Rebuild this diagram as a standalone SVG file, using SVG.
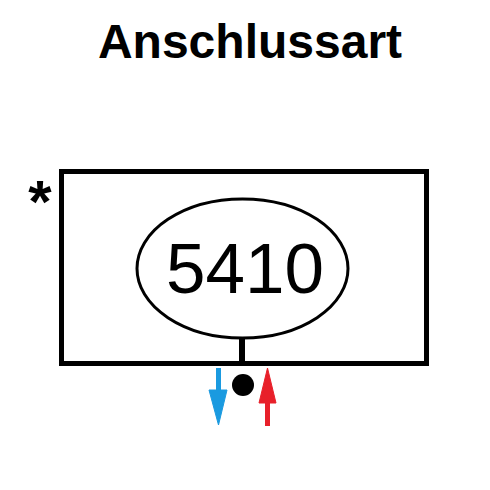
<svg xmlns="http://www.w3.org/2000/svg" width="490" height="490" viewBox="0 0 490 490">
<style>
.t{font-family:"Liberation Sans",Arial,sans-serif;fill:#000}
.ln{stroke:#000;fill:none}
.blue{fill:#1a9ae0;stroke:#1a9ae0}
.red{fill:#e8202a;stroke:#e8202a}
</style>
<rect width="490" height="490" fill="#fff"/>
<text class="t" x="250" y="58" font-size="48" font-weight="bold" text-anchor="middle">Anschlussart</text>
<g id="node">
<rect class="ln" x="61.5" y="171.5" width="365" height="192" stroke-width="5"/>
<text class="t" x="40" y="222" font-size="60" font-weight="bold" text-anchor="middle">*</text>
<ellipse class="ln" cx="242.5" cy="268.5" rx="105.5" ry="69.5" stroke-width="3"/>
<text class="t" x="245" y="293" font-size="71" text-anchor="middle">5410</text>
</g>
<g id="connectors">
<line class="ln" x1="242" y1="338" x2="242" y2="363" stroke-width="6"/>
<circle cx="243" cy="385" r="11" fill="#000"/>
<line class="blue" x1="218.5" y1="368" x2="218.5" y2="392" stroke-width="5"/>
<path class="blue" stroke="none" d="M209,390 L227,390 L218.5,425 Z"/>
<line class="red" x1="267.5" y1="400" x2="267.5" y2="426" stroke-width="5"/>
<path class="red" stroke="none" d="M259,403 L276,403 L267.5,368 Z"/>
</g>
</svg>
